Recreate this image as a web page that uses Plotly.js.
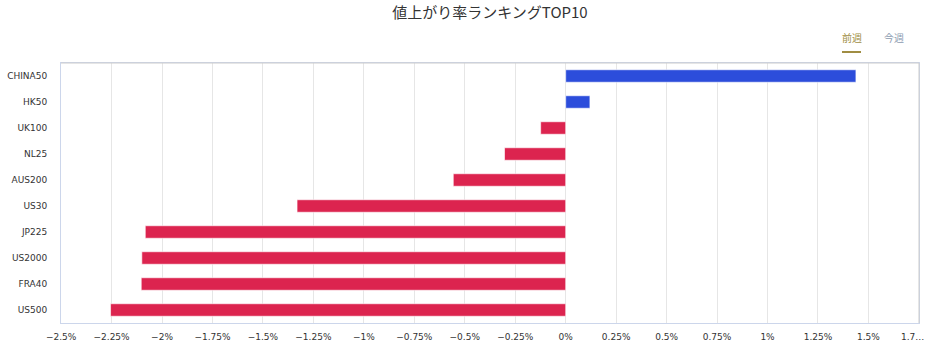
<!DOCTYPE html>
<html>
<head>
<meta charset="utf-8">
<script src="https://cdn.plot.ly/plotly-3.0.1.min.js"></script>
<style>
html,body{margin:0;padding:0;background:#fff;}
#chart{width:929px;height:353px;}
</style>
</head>
<body>
<div id="chart"></div>
<script>
const categories = ["CHINA50","HK50","UK100","NL25","AUS200","US30","JP225","US2000","FRA40","US500"];
const values = [1.438, 0.12, -0.124, -0.303, -0.557, -1.331, -2.083, -2.10, -2.103, -2.255];
const tickVals = [-2.5,-2.25,-2,-1.75,-1.5,-1.25,-1,-0.75,-0.5,-0.25,0,0.25,0.5,0.75,1,1.25,1.5,1.75];
const tickText = ["−2.5%","−2.25%","−2%","−1.75%","−1.5%","−1.25%","−1%","−0.75%","−0.5%","−0.25%","0%","0.25%","0.5%","0.75%","1%","1.25%","1.5%","1.7…"];
const title = "値上がり率ランキングTOP10";
const tabs = ["前週","今週"];

const POS = "#2c4ddb", NEG = "#dc244f";
const colors = values.map(v => v >= 0 ? POS : NEG);

const T = 63, B = 30, L = 61, R = 10, H = 353, W = 929;
const ph = H - T - B, pw = W - L - R;
const py = y => (H - B - y) / ph;
const px = x => (x - L) / pw;

const lastIdx = tickVals.length - 1;
const shownText = tickText.map((t, i) => i === lastIdx ? "" : t);

const trace = {
  type: "bar",
  orientation: "h",
  x: values,
  y: categories,
  base: 0,
  width: 0.48,
  marker: {color: colors, line: {color: "rgba(255,255,255,0.6)", width: 1}},
  hoverinfo: "x+y"
};

const layout = {
  width: W, height: H,
  margin: {l: L, r: R, t: T, b: B, pad: 0},
  paper_bgcolor: "#fff", plot_bgcolor: "#fff",
  font: {family: "'DejaVu Sans', sans-serif", size: 9, color: "#333"},
  title: {text: title, x: 0.5, xanchor: "center", xref: "paper", yref: "container", y: 1 - 13 / H, yanchor: "middle",
          font: {family: "'Noto Sans CJK JP', sans-serif", size: 15, color: "#333"}},
  xaxis: {
    range: [-2.5005, 1.7505], tickmode: "array", tickvals: tickVals, ticktext: shownText,
    showgrid: true, gridcolor: "#e6e6e6", gridwidth: 1,
    zeroline: false, showline: true, linecolor: "#ccd6eb", linewidth: 1, mirror: true,
    ticks: "", ticklen: 0, ticklabelstandoff: 5, tickfont: {size: 9, color: "#333"}, fixedrange: true
  },
  yaxis: {
    categoryorder: "array", categoryarray: categories.slice().reverse(),
    showgrid: false, zeroline: false, showline: true, linecolor: "#ccd6eb", linewidth: 1, mirror: true,
    ticks: "", ticklabelstandoff: 11, tickfont: {size: 9, color: "#333"}, fixedrange: true
  },
  shapes: [
    {type: "line", xref: "paper", yref: "paper", x0: 1, x1: 1, y0: 0, y1: 1, line: {color: "#cccccc", width: 1}},
    {type: "line", xref: "paper", yref: "paper", x0: 0, x1: 1, y0: 1, y1: 1, line: {color: "#cccccc", width: 1}},
    {type: "line", xref: "paper", yref: "paper", x0: px(842), x1: px(861), y0: py(52), y1: py(52), line: {color: "#a08d43", width: 2}}
  ],
  annotations: [
    {text: tabs[0], xref: "paper", yref: "paper", x: px(851.5), y: py(38), xanchor: "center", yanchor: "middle", showarrow: false,
     font: {family: "'Noto Sans CJK JP', sans-serif", size: 10, color: "#a08d43"}},
    {text: tabs[1], xref: "paper", yref: "paper", x: px(894), y: py(38), xanchor: "center", yanchor: "middle", showarrow: false,
     font: {family: "'Noto Sans CJK JP', sans-serif", size: 10, color: "#8c9bb0"}},
    {text: tickText[lastIdx], xref: "x", yref: "paper", x: tickVals[lastIdx] - 0.03, y: py(337), xanchor: "center", yanchor: "middle", showarrow: false,
     font: {family: "'DejaVu Sans', sans-serif", size: 9, color: "#333"}}
  ],
  showlegend: false
};

Plotly.newPlot("chart", [trace], layout, {displayModeBar: false, staticPlot: true});
</script>
</body>
</html>
